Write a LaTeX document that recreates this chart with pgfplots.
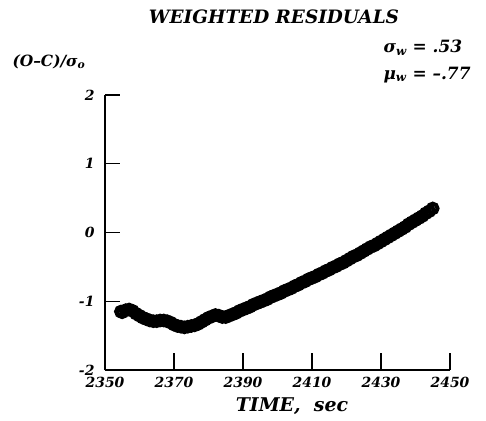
\documentclass[border=0pt]{standalone}
\usepackage{pgfplots}
\pgfplotsset{compat=1.18}
\usepackage{fontspec}
\setmainfont{DejaVu Serif}

\begin{document}
\begin{tikzpicture}[x=1bp,y=1bp]
\useasboundingbox (0,0) rectangle (486,420);
\begin{axis}[
    at={(105bp,50bp)}, anchor=south west,
    scale only axis,
    width=345bp, height=275bp,
    xmin=2350, xmax=2450,
    ymin=-2, ymax=2,
    xtick={2350,2370,2390,2410,2430,2450},
    ytick={-2,-1,0,1,2},
    axis x line*=bottom, axis y line*=left,
    axis line style={-, line width=1.3pt},
    tick align=inside,
    major tick length=15bp,
    tick style={line width=1.3pt, black},
    xtick style={/pgfplots/major tick length=17bp},
    ticklabel style={font=\fontsize{14}{14}\selectfont\bfseries\itshape},
    /pgf/number format/assume math mode=true,
    /pgf/number format/set thousands separator={},
    xticklabel style={yshift=-4bp},
    yticklabel style={xshift=-7bp},
    clip=false,
]
\addplot[only marks, mark=o, mark size=4.8bp,
    mark options={line width=4bp, draw=black}]
    coordinates {
    (2354.6,-1.15)(2355,-1.16)(2356,-1.13)(2357,-1.12)(2358,-1.14)(2359,-1.18)
    (2360,-1.21)(2361,-1.24)(2362,-1.26)(2363,-1.28)(2364,-1.29)(2365,-1.29)
    (2366,-1.28)(2367,-1.28)(2368,-1.29)(2369,-1.31)(2370,-1.34)(2371,-1.36)
    (2372,-1.37)(2373,-1.38)(2374,-1.37)(2375,-1.36)(2376,-1.35)(2377,-1.33)
    (2378,-1.30)(2379,-1.27)(2380,-1.24)(2381,-1.22)(2382,-1.20)(2383,-1.21)
    (2384,-1.23)(2385,-1.23)(2386,-1.21)(2387,-1.19)(2388,-1.17)(2389,-1.14)
    (2390,-1.12)(2391,-1.10)(2392,-1.08)(2393,-1.05)(2394,-1.03)(2395,-1.01)
    (2396,-0.99)(2397,-0.97)(2398,-0.94)(2399,-0.92)(2400,-0.90)(2401,-0.88)
    (2402,-0.85)(2403,-0.83)(2404,-0.81)(2405,-0.78)(2406,-0.76)(2407,-0.73)
    (2408,-0.71)(2409,-0.68)(2410,-0.66)(2411,-0.64)(2412,-0.61)(2413,-0.59)
    (2414,-0.56)(2415,-0.54)(2416,-0.51)(2417,-0.49)(2418,-0.46)(2419,-0.44)
    (2420,-0.41)(2421,-0.38)(2422,-0.35)(2423,-0.33)(2424,-0.30)(2425,-0.27)
    (2426,-0.24)(2427,-0.21)(2428,-0.19)(2429,-0.16)(2430,-0.13)(2431,-0.10)
    (2432,-0.07)(2433,-0.04)(2434,-0.01)(2435,0.02)(2436,0.05)(2437,0.08)
    (2438,0.12)(2439,0.15)(2440,0.18)(2441,0.21)(2442,0.24)(2443,0.28)
    (2444,0.31)(2445,0.35)
    };
\end{axis}
% titles and labels
\node[font=\fontsize{18.5}{18.5}\selectfont\bfseries\itshape] at (274,403) {WEIGHTED RESIDUALS};
\node[font=\fontsize{19}{19}\selectfont\bfseries\itshape] at (292,14) {TIME,\ \ sec};
\node[anchor=west, font=\fontsize{15.5}{15.5}\selectfont\bfseries\itshape] at (9,358) {(O--C)/σ\textsubscript{o}};
\node[anchor=west, font=\fontsize{17}{17}\selectfont\bfseries\itshape] at (380,372) {σ\textsubscript{w} = .53};
\node[anchor=west, font=\fontsize{17}{17}\selectfont\bfseries\itshape] at (380,345) {μ\textsubscript{w} = --.77};
\end{tikzpicture}
\end{document}
